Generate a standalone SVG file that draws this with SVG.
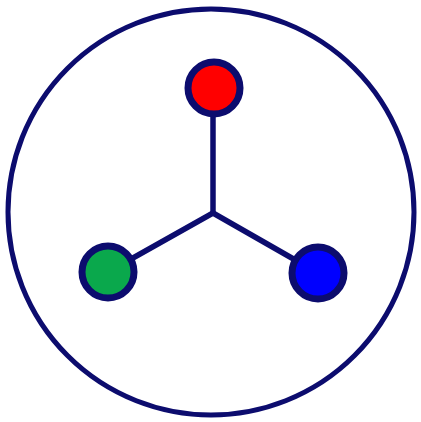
<svg xmlns="http://www.w3.org/2000/svg" width="421" height="422" viewBox="0 0 421 422">
<style>
.ln{stroke:#0c0c6e;stroke-width:5.5;fill:none;stroke-linecap:round}
.nd{stroke:#0c0c6e;stroke-width:7}
</style>
<rect width="421" height="422" fill="#fff"/>
<g id="outer"><circle cx="211" cy="212" r="203" fill="none" stroke="#0c0c6e" stroke-width="5"/></g>
<g id="connectors">
<line class="ln" x1="213" y1="213" x2="213" y2="89"/>
<line class="ln" x1="213" y1="213" x2="108" y2="272"/>
<line class="ln" x1="213" y1="213" x2="318" y2="273"/>
</g>
<g id="red"><circle class="nd" cx="214" cy="88" r="26" fill="#ff0000"/></g>
<g id="green"><circle class="nd" cx="108" cy="272" r="26" fill="#0aa84c"/></g>
<g id="blue"><circle class="nd" cx="318" cy="273" r="26" fill="#0000ff"/></g>
</svg>
